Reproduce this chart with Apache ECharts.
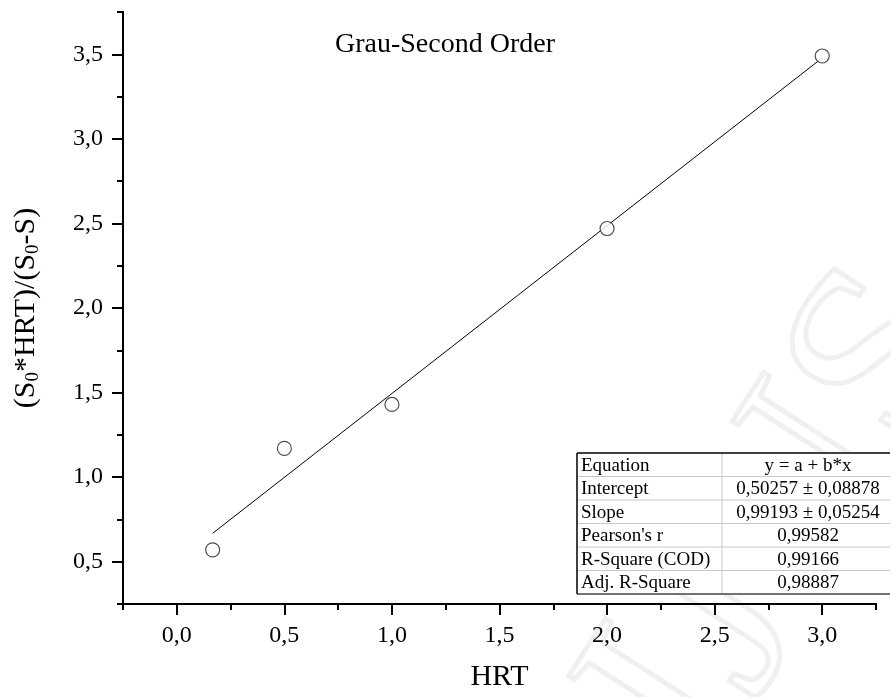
<!DOCTYPE html>
<html>
<head>
<meta charset="utf-8">
<script src="https://cdn.jsdelivr.net/npm/echarts@6/dist/echarts.min.js"></script>
<style>
  html, body { margin: 0; padding: 0; background: #fff; }
  #chart { width: 891px; height: 697px; }
</style>
</head>
<body>
<div id="chart"></div>
<script>
// Measured points: hydraulic retention time vs. (S0*HRT)/(S0-S)
const hrt = [0.1667, 0.5, 1.0, 2.0, 3.0];
const ratio = [0.57, 1.17, 1.43, 2.47, 3.49];

// Linear fit y = a + b*x
const intercept = 0.50257;
const slope = 0.99193;

// Axis ticks
const xMajorTicks = [0, 0.5, 1.0, 1.5, 2.0, 2.5, 3.0];
const xMinorTicks = [-0.25, 0.25, 0.75, 1.25, 1.75, 2.25, 2.75, 3.25];
const yMajorTicks = [0.5, 1.0, 1.5, 2.0, 2.5, 3.0, 3.5];
const yMinorTicks = [0.25, 0.75, 1.25, 1.75, 2.25, 2.75, 3.25, 3.75];

// Fit statistics table
const tableLabels = ['Equation', 'Intercept', 'Slope', "Pearson's r", 'R-Square (COD)', 'Adj. R-Square'];
const tableValues = ['y = a + b*x', '0,50257 \u00b1 0,08878', '0,99193 \u00b1 0,05254', '0,99582', '0,99166', '0,98887'];

const serif = '"Liberation Serif", "Times New Roman", serif';
const fmt = v => v.toFixed(1).replace('.', ',');

const scatterData = hrt.map((x, i) => [x, ratio[i]]);
const xLo = Math.min(...hrt), xHi = Math.max(...hrt);
const fitData = [[xLo, intercept + slope * xLo], [xHi, intercept + slope * xHi]];

function axisPair(min, max, major, minor, extra) {
  const line = { show: true, onZero: false, lineStyle: { color: '#000', width: 2 } };
  const main = Object.assign({
    type: 'value', min: min, max: max,
    axisLine: line,
    axisTick: { show: true, customValues: major, length: 11, lineStyle: { color: '#000', width: 2 } },
    axisLabel: { customValues: major, formatter: fmt, fontFamily: serif, fontSize: 24, color: '#000', margin: 20 },
    splitLine: { show: false }
  }, extra);
  const sub = {
    type: 'value', min: min, max: max, position: main.position,
    axisLine: line,
    axisTick: { show: true, customValues: minor, length: 6, lineStyle: { color: '#000', width: 2 } },
    axisLabel: { show: false },
    splitLine: { show: false }
  };
  return [main, sub];
}

// Table geometry
const tX = 577, tY = 453, tW = 313, rowH = 23.5, colX = 722;
const tableGraphics = [];
tableGraphics.push({ type: 'rect', shape: { x: tX, y: tY, width: tW, height: rowH * 6 }, style: { fill: '#fff', stroke: null }, z: 10 });
for (let i = 1; i < 6; i++) {
  tableGraphics.push({ type: 'line', shape: { x1: tX, y1: tY + rowH * i, x2: tX + tW, y2: tY + rowH * i }, style: { stroke: '#c8c8c8', lineWidth: 1 }, z: 11 });
}
tableGraphics.push({ type: 'line', shape: { x1: colX, y1: tY, x2: colX, y2: tY + rowH * 6 }, style: { stroke: '#c8c8c8', lineWidth: 1 }, z: 11 });
tableGraphics.push({ type: 'line', shape: { x1: tX, y1: tY, x2: tX + tW, y2: tY }, style: { stroke: '#000', lineWidth: 1.5 }, z: 12 });
tableGraphics.push({ type: 'line', shape: { x1: tX, y1: tY + rowH * 6, x2: tX + tW, y2: tY + rowH * 6 }, style: { stroke: '#444', lineWidth: 1.5 }, z: 12 });
tableGraphics.push({ type: 'line', shape: { x1: tX, y1: tY, x2: tX, y2: tY + rowH * 6 }, style: { stroke: '#000', lineWidth: 1.5 }, z: 12 });
tableLabels.forEach((t, i) => {
  tableGraphics.push({ type: 'text', x: tX + 4, y: tY + rowH * i + rowH / 2 + 1, style: { text: t, font: '19px ' + serif, fill: '#000', textAlign: 'left', textVerticalAlign: 'middle' }, z: 13 });
});
tableValues.forEach((t, i) => {
  tableGraphics.push({ type: 'text', x: (colX + tX + tW) / 2 + 2, y: tY + rowH * i + rowH / 2 + 1, style: { text: t, font: '19px ' + serif, fill: '#000', textAlign: 'center', textVerticalAlign: 'middle' }, z: 13 });
});

const chart = echarts.init(document.getElementById('chart'), null, { renderer: 'canvas' });
chart.setOption({
  backgroundColor: '#fff',
  animation: false,
  title: {
    text: 'Grau-Second Order', left: 440, top: 26, textAlign: 'center',
    textStyle: { fontFamily: serif, fontSize: 28, fontWeight: 'normal', color: '#000' }
  },
  grid: { left: 123, right: 15, top: 12, bottom: 91, containLabel: false },
  xAxis: axisPair(-0.25, 3.25, xMajorTicks, xMinorTicks, {
    position: 'bottom', name: 'HRT', nameLocation: 'middle', nameGap: 58,
    nameTextStyle: { fontFamily: serif, fontSize: 30, color: '#000' }
  }),
  yAxis: axisPair(0.25, 3.75, yMajorTicks, yMinorTicks, {
    position: 'left', name: '{n|(S}{s|0}{n|*HRT)/(S}{s|0}{n|-S)}', nameLocation: 'middle', nameGap: 80,
    nameTextStyle: {
      color: '#000',
      rich: {
        n: { fontFamily: serif, fontSize: 30, color: '#000' },
        s: { fontFamily: serif, fontSize: 19, color: '#000', padding: [14, 0, 0, 0] }
      }
    }
  }),
  graphic: [
    {
      type: 'text', x: 790, y: 520, rotation: 1.0, z: -10, silent: true,
      style: { text: 'IJUS', font: '260px ' + serif, fill: 'rgba(0,0,0,0)', stroke: '#f0f0f0', lineWidth: 5, textAlign: 'center', textVerticalAlign: 'middle' }
    }
  ].concat(tableGraphics),
  series: [
    {
      type: 'line', data: fitData, xAxisIndex: 0, yAxisIndex: 0,
      symbol: 'none', lineStyle: { color: '#000', width: 1 }, z: 2, silent: true
    },
    {
      type: 'scatter', data: scatterData, xAxisIndex: 0, yAxisIndex: 0,
      symbol: 'circle', symbolSize: 14,
      itemStyle: { color: '#fff', borderColor: '#222', borderWidth: 1.2 }, z: 3, silent: true
    }
  ]
});
</script>
</body>
</html>
